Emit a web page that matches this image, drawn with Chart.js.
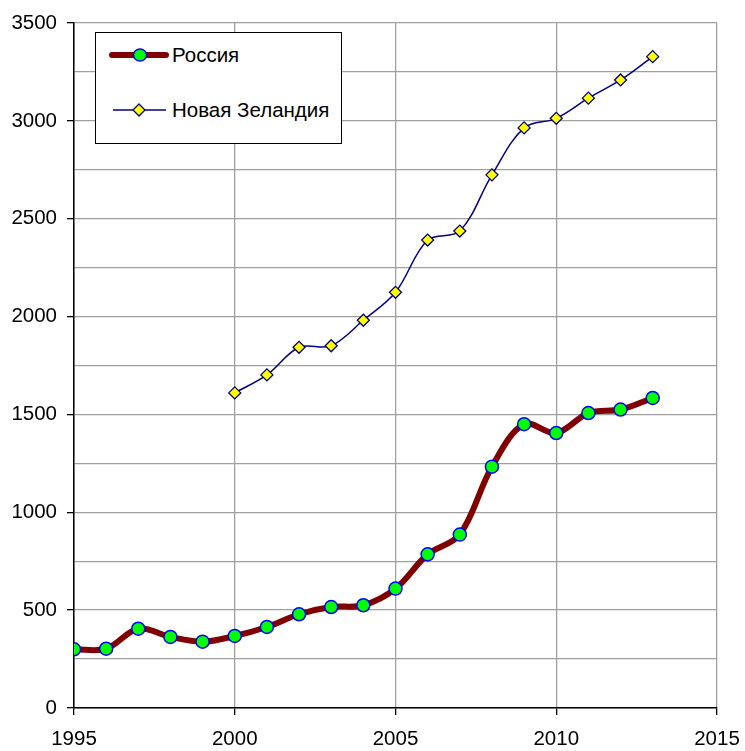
<!DOCTYPE html>
<html>
<head>
<meta charset="utf-8">
<script src="https://cdn.jsdelivr.net/npm/chart.js@4.4.0/dist/chart.umd.min.js"></script>
<style>
  body { margin: 0; background: #fff; }
  #wrap { position: relative; width: 745px; height: 751px; }
  #legend {
    position: absolute; left: 95px; top: 32px; width: 245px; height: 110px;
    border: 1.5px solid #000; background: #fff;
    font-family: Arial, "Liberation Sans", sans-serif; font-size: 20.5px; color: #000;
  }
  .row { position: absolute; left: 0; display: flex; align-items: center; }
  .row svg { margin-left: 13px; margin-right: 3px; }
</style>
</head>
<body>
<div id="wrap">
  <canvas id="myChart" width="745" height="751"></canvas>
  <div id="legend">
    <div class="row" style="top:10px">
      <svg width="60" height="24"><line x1="3" y1="12" x2="57" y2="12" stroke="#800000" stroke-width="6" stroke-linecap="round"/><ellipse cx="31" cy="12" rx="6.5" ry="6" fill="#00ff00" stroke="#0000ff" stroke-width="1.5"/></svg>
      <span>Россия</span>
    </div>
    <div class="row" style="top:65px">
      <svg width="60" height="24"><line x1="4" y1="12" x2="57" y2="12" stroke="#000080" stroke-width="1.5"/><polygon points="30,6 36,12 30,18 24,12" fill="#ffff00" stroke="#000080" stroke-width="1.3"/></svg>
      <span>Новая Зеландия</span>
    </div>
  </div>
</div>
<script>
// data
const yearsRussia = [1995, 1996, 1997, 1998, 1999, 2000, 2001, 2002, 2003, 2004, 2005, 2006, 2007, 2008, 2009, 2010, 2011, 2012, 2013];
const russia = [300, 303, 405, 363, 339, 368, 414, 479, 516, 525, 610, 785, 886, 1233, 1450, 1405, 1507, 1525, 1584];
const yearsNZ = [2000, 2001, 2002, 2003, 2004, 2005, 2006, 2007, 2008, 2009, 2010, 2011, 2012, 2013];
const newZealand = [1610, 1702, 1843, 1851, 1981, 2124, 2391, 2437, 2724, 2964, 3013, 3116, 3209, 3328];

const xTicks = [1995, 2000, 2005, 2010, 2015];
const yTicks = [0, 500, 1000, 1500, 2000, 2500, 3000, 3500];

const font = { family: 'Arial, "Liberation Sans", sans-serif', size: 20.5 };

const ctx = document.getElementById('myChart').getContext('2d');

const myChart = new Chart(ctx, {
  type: 'line',
  data: {
    datasets: [
      {
        label: 'Россия',
        data: yearsRussia.map((y, i) => ({ x: y, y: russia[i] })),
        borderColor: '#800000',
        borderWidth: 6,
        tension: 0.35,
        pointRadius: 6.5,
        pointBackgroundColor: '#00ff00',
        pointBorderColor: '#0000ff',
        pointBorderWidth: 1.5,
        order: 2
      },
      {
        label: 'Новая Зеландия',
        data: yearsNZ.map((y, i) => ({ x: y, y: newZealand[i] })),
        borderColor: '#000080',
        borderWidth: 1.5,
        tension: 0.35,
        pointStyle: 'rectRot',
        pointRadius: 6,
        pointBackgroundColor: '#ffff00',
        pointBorderColor: '#000080',
        pointBorderWidth: 1.3,
        order: 1
      }
    ]
  },
  options: {
    responsive: false,
    animation: false,
    layout: { padding: { top: 23, right: 28, left: 0, bottom: 0 } },
    plugins: { legend: { display: false }, tooltip: { enabled: false } },
    scales: {
      x: {
        type: 'linear',
        min: 1995,
        max: 2015,
        afterBuildTicks: (scale) => { scale.ticks = xTicks.map(v => ({ value: v })); },
        afterFit: (scale) => {
          scale.height = 43;
          scale.paddingLeft = 0;
          scale.paddingRight = 0;
        },
        ticks: { color: '#000', font: font, padding: 12, maxRotation: 0, callback: (v) => String(v) },
        grid: {
          color: '#a0a0a0',
          lineWidth: 1.3,
          tickColor: '#000',
          tickLength: 7
        },
        border: { color: '#000', width: 1.5 }
      },
      y: {
        min: 0,
        max: 3500,
        ticks: {
          stepSize: 250,
          color: '#000',
          font: font,
          padding: 10,
          callback: (v) => (yTicks.includes(v) ? String(v) : '')
        },
        afterFit: (scale) => {
          scale.width = 74;
          scale.paddingTop = 0;
          scale.paddingBottom = 0;
        },
        grid: {
          color: '#a0a0a0',
          lineWidth: 1.3,
          tickColor: (c) => (c.tick && c.tick.value % 500 === 0 ? '#000' : 'rgba(0,0,0,0)'),
          tickLength: 7
        },
        border: { color: '#000', width: 1.5 }
      }
    }
  }
});
</script>
</body>
</html>
